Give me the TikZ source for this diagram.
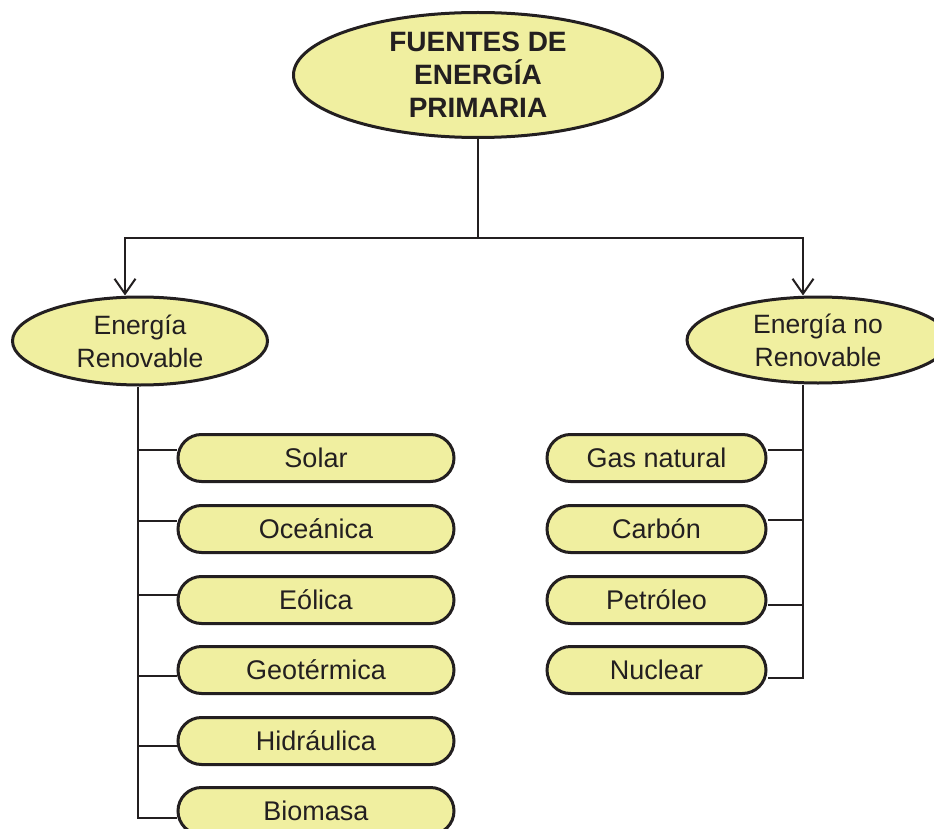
\documentclass[tikz,border=0pt]{standalone}
\usepackage{fontspec}
\setmainfont{Liberation Sans}
\usetikzlibrary{shapes.geometric,shapes.misc,arrows.meta}
\definecolor{fillY}{HTML}{F0EFA0}
\definecolor{lineK}{HTML}{231F20}
\begin{document}
\begin{tikzpicture}[x=1pt,y=-1pt,
 ell/.style={ellipse, draw=lineK, line width=3pt, fill=fillY, inner sep=0pt, align=center, font=\fontsize{26.5}{33}\selectfont, text=lineK},
 pill/.style={rounded rectangle, draw=lineK, line width=3pt, fill=fillY, inner sep=0pt, minimum height=47pt, font=\fontsize{27}{30}\selectfont, text=lineK},
 lpill/.style={pill, minimum width=276pt},
 rpill/.style={pill, minimum width=219pt},
 conn/.style={draw=lineK, line width=2pt},
 arr/.style={conn, -{Straight Barb[length=15pt,width=21pt,line width=2pt]}}]
\useasboundingbox (0,0) rectangle (934,829);
\clip (0,0) rectangle (934,829);
% nodes
\node[ell, minimum width=369pt, minimum height=125pt, font=\bfseries\fontsize{28}{33}\selectfont] (top) at (478,75) {FUENTES DE\\ENERGÍA\\PRIMARIA};
\node[ell, minimum width=255pt, minimum height=88pt] (ren) at (140,341) {Energía\\Renovable};
\node[ell, minimum width=262pt, minimum height=86pt] (nren) at (818,340) {Energía no\\Renovable};
\node[lpill] (sol) at (316,458) {Solar};
\node[lpill] (oce) at (316,529) {Oceánica};
\node[lpill] (eol) at (316,600) {Eólica};
\node[lpill] (geo) at (316,670) {Geotérmica};
\node[lpill] (hid) at (316,741) {Hidráulica};
\node[lpill] (bio) at (316,811) {Biomasa};
\node[rpill] (gas) at (656.5,458) {Gas natural};
\node[rpill] (car) at (656.5,529) {Carbón};
\node[rpill] (pet) at (656.5,600) {Petróleo};
\node[rpill] (nuc) at (656.5,670) {Nuclear};
% top connectors
\coordinate (j) at (478,238);
\draw[conn] (top.south) -- (j);
\draw[arr] (j) -| ([xshift=-15pt]ren.north);
\draw[arr] (j) -| ([xshift=-15pt]nren.north);
% left trunk
\coordinate (lt) at ([xshift=-2pt]ren.south);
\coordinate (b1) at ([yshift=8pt]sol.west);
\coordinate (b2) at ([yshift=8pt]oce.west);
\coordinate (b3) at ([yshift=5pt]eol.west);
\coordinate (b4) at ([yshift=-6pt]geo.west);
\coordinate (b5) at ([yshift=-5pt]hid.west);
\coordinate (b6) at ([yshift=-7pt]bio.west);
\draw[conn] (lt) |- (b6);
\foreach \b in {b1,b2,b3,b4,b5} \draw[conn] (lt |- \b) -- (\b);
% right trunk
\coordinate (rt) at ([xshift=-15pt]nren.south);
\coordinate (r1) at ([yshift=8pt]gas.east);
\coordinate (r2) at ([yshift=9pt]car.east);
\coordinate (r3) at ([yshift=-5pt]pet.east);
\coordinate (r4) at ([yshift=-8pt]nuc.east);
\draw[conn] (rt) |- (r4);
\foreach \r in {r1,r2,r3} \draw[conn] (rt |- \r) -- (\r);
\end{tikzpicture}
\end{document}
